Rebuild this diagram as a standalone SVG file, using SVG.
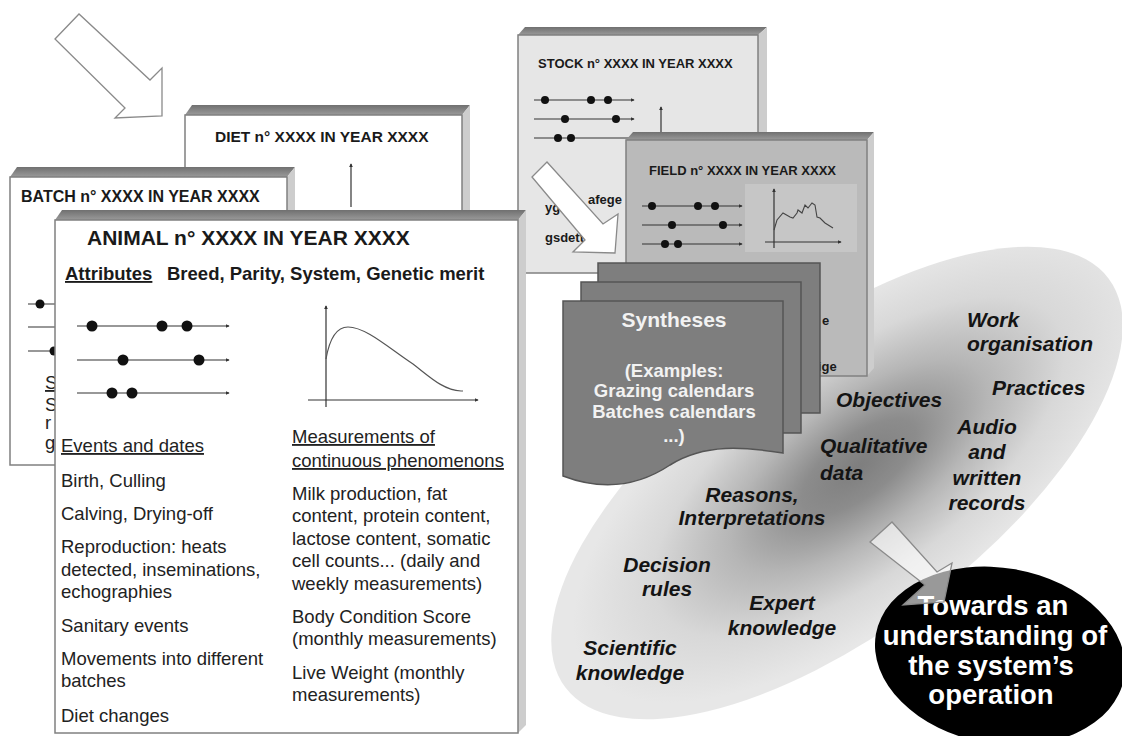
<svg xmlns="http://www.w3.org/2000/svg" width="1122" height="736" viewBox="0 0 1122 736">
<defs>
  <radialGradient id="ellGrad" cx="0.54" cy="0.5" r="0.5">
    <stop offset="0" stop-color="#7e7e7e"/>
    <stop offset="0.2" stop-color="#8c8c8c"/>
    <stop offset="0.45" stop-color="#b6b6b6"/>
    <stop offset="0.72" stop-color="#d8d8d8"/>
    <stop offset="1" stop-color="#e7e7e7"/>
  </radialGradient>
  <linearGradient id="topGrad" x1="0" y1="0" x2="0" y2="1">
    <stop offset="0" stop-color="#707070"/>
    <stop offset="1" stop-color="#9a9a9a"/>
  </linearGradient>
  <marker id="tip" viewBox="0 0 6 6" refX="5" refY="3" markerWidth="4" markerHeight="4" orient="auto" markerUnits="userSpaceOnUse">
    <path d="M0,0 L6,3 L0,6 Z" fill="#333"/>
  </marker>
</defs>
<style>
  .front { fill: #ffffff; stroke: #808080; stroke-width: 1.5; }
  .top { fill: url(#topGrad); stroke: none; }
  .side { fill: #cdcdcd; stroke: none; }
  .hd { font-family: "Liberation Sans", Arial, sans-serif; font-weight: bold; fill: #1a1a1a; }
  .body { font-family: "Liberation Sans", Arial, sans-serif; font-size: 18.5px; fill: #222; }
  .ul { text-decoration: underline; }
  .ev { stroke: #333; stroke-width: 1.2; fill: none; marker-end: url(#tip); }
  .dot { fill: #111; }
  .ax { stroke: #333; stroke-width: 1.2; fill: none; marker-end: url(#tip); }
  .page { fill: #7e7e7e; stroke: #555; stroke-width: 1.5; }
  .syn { font-family: "Liberation Sans", Arial, sans-serif; font-weight: bold; fill: #f2f2f2; text-anchor: middle; }
  .kw { font-family: "Liberation Sans", Arial, sans-serif; font-weight: bold; font-style: italic; font-size: 21px; fill: #141414; }
  .mid { text-anchor: middle; }
  .arrow { stroke: #8a8a8a; stroke-width: 1.3; }
  .tw { font-family: "Liberation Sans", Arial, sans-serif; font-weight: bold; font-size: 27.5px; fill: #ffffff; text-anchor: middle; }
</style>

<rect width="1122" height="736" fill="#ffffff"/>

<!-- Big grey ellipse -->
<g id="knowledge-ellipse">
  <ellipse cx="0" cy="0" rx="340" ry="148" transform="translate(837,483) rotate(-37)" fill="url(#ellGrad)"/>
</g>

<!-- DIET box -->
<g id="diet">
  <polygon class="top" points="185,115 192,105 470,105 462,115"/>
  <polygon class="side" points="462,115 470,105 470,300 462,310"/>
  <rect class="front" x="185" y="115" width="277" height="195"/>
  <text class="hd" x="215" y="142" font-size="15.5">DIET n° XXXX IN YEAR XXXX</text>
  <line class="ax" x1="351" y1="207" x2="351" y2="164"/>
</g>

<!-- BATCH box -->
<g id="batch">
  <polygon class="top" points="10,177 17,167 295,167 287,177"/>
  <polygon class="side" points="287,177 295,167 295,455 287,465"/>
  <rect class="front" x="10" y="177" width="277" height="288"/>
  <text class="hd" x="21" y="202" font-size="16">BATCH n° XXXX IN YEAR XXXX</text>
  <line x1="28" y1="304" x2="70" y2="304" stroke="#333" stroke-width="1.2"/>
  <circle class="dot" cx="40" cy="304" r="4.5"/>
  <line x1="28" y1="327" x2="70" y2="327" stroke="#333" stroke-width="1.2"/>
  <line x1="28" y1="351" x2="70" y2="351" stroke="#333" stroke-width="1.2"/>
  <circle class="dot" cx="54" cy="351" r="4.5"/>
  <text class="body ul" x="45" y="389" font-size="14">S</text>
  <text class="body" x="45" y="411" font-size="14">S</text>
  <text class="body" x="45" y="429" font-size="11">r</text>
  <text class="body" x="45" y="449" font-size="11">g</text>
</g>

<!-- STOCK box -->
<g id="stock">
  <polygon class="top" points="518,35 525,27 767,27 758,35"/>
  <polygon class="side" points="758,35 767,27 767,265 758,273"/>
  <rect class="front" x="518" y="35" width="240" height="238" style="fill:#e6e6e6"/>
  <text class="hd" x="538" y="68" font-size="13">STOCK  n° XXXX IN YEAR XXXX</text>
  <line class="ev" x1="534" y1="100" x2="634" y2="100"/>
  <circle class="dot" cx="545" cy="100" r="4"/>
  <circle class="dot" cx="591" cy="100" r="4"/>
  <circle class="dot" cx="608" cy="100" r="4"/>
  <line class="ev" x1="534" y1="119" x2="634" y2="119"/>
  <circle class="dot" cx="565" cy="119" r="4"/>
  <circle class="dot" cx="616" cy="119" r="4"/>
  <line class="ev" x1="534" y1="138" x2="634" y2="138"/>
  <circle class="dot" cx="558" cy="138" r="4"/>
  <circle class="dot" cx="571" cy="138" r="4"/>
  <line class="ax" x1="661" y1="140" x2="661" y2="107"/>
  <text class="hd" x="588" y="204" font-size="13">afege</text>
  <text class="hd" x="545" y="212" font-size="13">ygr</text>
  <text class="hd" x="545" y="242" font-size="13">gsdett</text>
</g>

<!-- FIELD box -->
<g id="field">
  <polygon class="top" points="626,140 633,132 874,132 867,140"/>
  <polygon class="side" points="867,140 874,132 874,368 867,376"/>
  <rect class="front" x="626" y="140" width="241" height="236" style="fill:#bababa"/>
  <rect x="745" y="184" width="112" height="68" fill="#c6c6c6"/>
  <text class="hd" x="649" y="175" font-size="13">FIELD  n° XXXX IN YEAR XXXX</text>
  <line class="ev" x1="642" y1="206" x2="742" y2="206"/>
  <circle class="dot" cx="652" cy="206" r="4"/>
  <circle class="dot" cx="698" cy="206" r="4"/>
  <circle class="dot" cx="715" cy="206" r="4"/>
  <line class="ev" x1="642" y1="225" x2="742" y2="225"/>
  <circle class="dot" cx="672" cy="225" r="4"/>
  <circle class="dot" cx="723" cy="225" r="4"/>
  <line class="ev" x1="642" y1="244" x2="742" y2="244"/>
  <circle class="dot" cx="665" cy="244" r="4"/>
  <circle class="dot" cx="678" cy="244" r="4"/>
  <line class="ax" x1="774" y1="248" x2="774" y2="189"/>
  <line class="ax" x1="765" y1="242" x2="841" y2="242"/>
  <polyline points="774,230 777,220 783,213 790,217 793,218 797,213 798,210 802,213 805,205 808,208 812,203 815,205 817,217 820,218 825,223 833,228" fill="none" stroke="#444" stroke-width="1.1"/>
  <text class="hd" x="822" y="325" font-size="13">e</text>
  <text class="hd" x="818" y="371" font-size="13">ige</text>
</g>

<!-- Syntheses stack -->
<g id="syntheses">
  <rect class="page" x="598" y="263" width="222" height="150"/>
  <rect class="page" x="581" y="282" width="220" height="151"/>
  <path class="page" d="M563,301 H783 V453 C745,447 705,443 670,465 C640,485 605,492 563,476 Z"/>
  <text class="syn" x="674" y="327" font-size="21">Syntheses</text>
  <text class="syn" x="674" y="377" font-size="18.5">(Examples:</text>
  <text class="syn" x="674" y="397" font-size="18.5">Grazing calendars</text>
  <text class="syn" x="674" y="418" font-size="18.5">Batches calendars</text>
  <text class="syn" x="674" y="442" font-size="18.5">...)</text>
</g>

<!-- ANIMAL box -->
<g id="animal">
  <polygon class="top" points="55,220 62,210 526,210 518,220"/>
  <polygon class="side" points="518,220 526,210 526,725 518,733"/>
  <rect class="front" x="55" y="220" width="463" height="513"/>
  <text class="hd" x="87" y="245" font-size="21">ANIMAL n° XXXX IN YEAR XXXX</text>
  <text class="hd" x="65" y="280" font-size="18.5"><tspan class="ul">Attributes</tspan><tspan x="167">Breed, Parity, System, Genetic merit</tspan></text>
  <line class="ev" x1="77" y1="326" x2="229" y2="326"/>
  <circle class="dot" cx="92" cy="326" r="5.5"/>
  <circle class="dot" cx="162" cy="326" r="5.5"/>
  <circle class="dot" cx="187" cy="326" r="5.5"/>
  <line class="ev" x1="77" y1="360" x2="229" y2="360"/>
  <circle class="dot" cx="123" cy="360" r="5.5"/>
  <circle class="dot" cx="199" cy="360" r="5.5"/>
  <line class="ev" x1="77" y1="393" x2="229" y2="393"/>
  <circle class="dot" cx="112" cy="393" r="5.5"/>
  <circle class="dot" cx="132" cy="393" r="5.5"/>
  <line class="ax" x1="326" y1="407" x2="326" y2="306"/>
  <line class="ax" x1="308" y1="400" x2="478" y2="400"/>
  <path d="M326,359 C330,336 338,327 348,327 C366,327 390,349 413,364 C430,377 443,390 461,391 L463,391" fill="none" stroke="#555" stroke-width="1.2"/>
  <text class="body" x="61" y="452"><tspan class="ul">Events and dates</tspan></text>
  <text class="body" x="61" y="487">Birth, Culling</text>
  <text class="body" x="61" y="520">Calving, Drying-off</text>
  <text class="body" x="61" y="553">Reproduction: heats</text>
  <text class="body" x="61" y="576">detected, inseminations,</text>
  <text class="body" x="61" y="598">echographies</text>
  <text class="body" x="61" y="632">Sanitary events</text>
  <text class="body" x="61" y="665">Movements into different</text>
  <text class="body" x="61" y="687">batches</text>
  <text class="body" x="61" y="722">Diet changes</text>
  <text class="body ul" x="292" y="443">Measurements of</text>
  <text class="body ul" x="292" y="467">continuous phenomenons</text>
  <text class="body" x="292" y="500">Milk production, fat</text>
  <text class="body" x="292" y="522">content, protein content,</text>
  <text class="body" x="292" y="545">lactose content, somatic</text>
  <text class="body" x="292" y="567">cell counts...  (daily and</text>
  <text class="body" x="292" y="590">weekly measurements)</text>
  <text class="body" x="292" y="623">Body Condition Score</text>
  <text class="body" x="292" y="645">(monthly measurements)</text>
  <text class="body" x="292" y="679">Live Weight (monthly</text>
  <text class="body" x="292" y="701">measurements)</text>
</g>

<!-- Keywords inside ellipse -->
<g id="keywords">
  <text class="kw" x="967" y="327">Work</text>
  <text class="kw" x="967" y="351">organisation</text>
  <text class="kw" x="992" y="395">Practices</text>
  <text class="kw" x="836" y="407">Objectives</text>
  <text class="kw mid" x="987" y="434">Audio</text>
  <text class="kw mid" x="987" y="459">and</text>
  <text class="kw mid" x="987" y="485">written</text>
  <text class="kw mid" x="987" y="510">records</text>
  <text class="kw" x="820" y="453">Qualitative</text>
  <text class="kw" x="820" y="480">data</text>
  <text class="kw mid" x="752" y="502">Reasons,</text>
  <text class="kw mid" x="752" y="525">Interpretations</text>
  <text class="kw mid" x="667" y="572">Decision</text>
  <text class="kw mid" x="667" y="596">rules</text>
  <text class="kw mid" x="782" y="610">Expert</text>
  <text class="kw mid" x="782" y="635">knowledge</text>
  <text class="kw mid" x="630" y="655">Scientific</text>
  <text class="kw mid" x="630" y="680">knowledge</text>
</g>

<!-- Result ellipse -->
<g id="result">
  <ellipse cx="0" cy="0" rx="126" ry="88" transform="translate(1000,656) rotate(10)" fill="#000"/>
  <text class="tw" x="993" y="615">Towards an</text>
  <text class="tw" x="995" y="645">understanding of</text>
  <text class="tw" x="991" y="675">the system’s</text>
  <text class="tw" x="991" y="704">operation</text>
</g>

<!-- Connectors (block arrows) -->
<g id="connectors">
  <polygon class="arrow" points="55,39 79,14 150,80 162,68 162,116 115,118 125,108" fill="#ffffff"/>
  <polygon class="arrow" points="532,177 547,162 603,224 618,214 615,253 573,252 585,240" fill="#ffffff"/>
  <polygon class="arrow" points="870,542 892,522 937,572 952,563 944,602 903,605 925,585" fill="#ffffff" fill-opacity="0.6"/>
</g>
</svg>
